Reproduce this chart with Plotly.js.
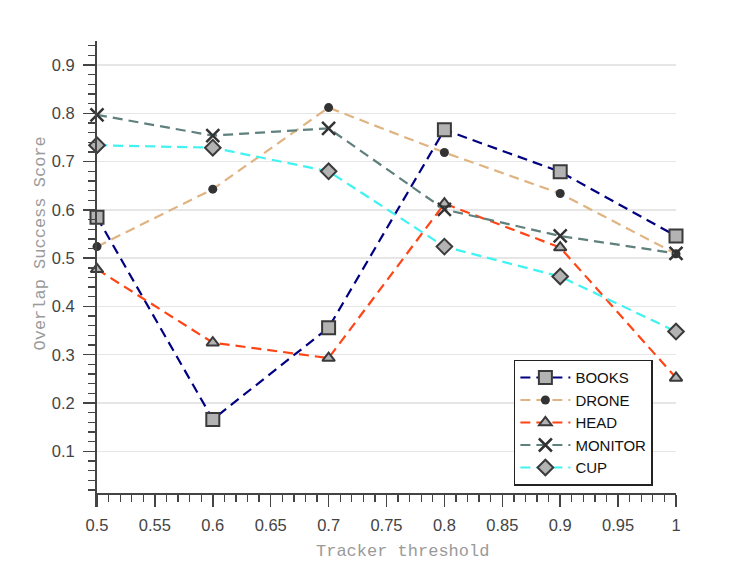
<!DOCTYPE html>
<html>
<head>
<meta charset="utf-8">
<script src="https://cdn.plot.ly/plotly-3.0.1.min.js"></script>
<style>html,body{margin:0;padding:0;background:#fff;}#chart{width:747px;height:561px;}</style>
</head>
<body>
<div id="chart"></div>
<script>
const thresholds = [0.5, 0.6, 0.7, 0.8, 0.9, 1.0];
const seriesNames = ["BOOKS", "DRONE", "HEAD", "MONITOR", "CUP"];
const books   = [0.585, 0.166, 0.356, 0.766, 0.679, 0.546];
const drone   = [0.524, 0.643, 0.812, 0.719, 0.634, 0.509];
const head    = [0.477, 0.325, 0.293, 0.613, 0.522, 0.252];
const monitor = [0.797, 0.754, 0.769, 0.601, 0.546, 0.510];
const cup     = [0.734, 0.729, 0.680, 0.524, 0.462, 0.348];
const xTickVals = [0.5, 0.55, 0.6, 0.65, 0.7, 0.75, 0.8, 0.85, 0.9, 0.95, 1.0];
const xTickText = ["0.5","0.55","0.6","0.65","0.7","0.75","0.8","0.85","0.9","0.95","1"];
const yTickVals = [0.1, 0.2, 0.3, 0.4, 0.5, 0.6, 0.7, 0.8, 0.9];
const yTickText = ["0.1","0.2","0.3","0.4","0.5","0.6","0.7","0.8","0.9"];
const xAxisTitle = "Tracker threshold";
const yAxisTitle = "Overlap Success Score";

const yMinorVals = [];
for (let k = 1; k <= 47; k++) yMinorVals.push(+(k * 0.02).toFixed(2));

const values = [books, drone, head, monitor, cup];
const lineColors = ["#000080", "#E0B482", "#FF4516", "#5F807C", "#3FF3F0"];
const markerStyles = [
  {symbol: "square", size: 13, color: "#b3b3b3", line: {color: "#3a3a3a", width: 2}},
  {symbol: "circle", size: 9, color: "#333333", line: {color: "#333333", width: 0}},
  {symbol: "triangle-up", size: 11, color: "#b3b3b3", line: {color: "#3a3a3a", width: 2}},
  {symbol: "x-thin", size: 13, color: "#333333", line: {color: "#333333", width: 2.5}},
  {symbol: "diamond", size: 12, color: "#b3b3b3", line: {color: "#3a3a3a", width: 2}}
];

const traces = seriesNames.map((name, i) => ({
  type: "scatter",
  mode: "lines+markers",
  name: name,
  x: thresholds,
  y: values[i],
  line: {color: lineColors[i], width: 2.2, dash: "10px,6px"},
  marker: markerStyles[i],
  cliponaxis: false
}));

const titleFont = {family: "Liberation Mono, Courier New, monospace", size: 17, color: "#9a9a9a"};

const layout = {
  width: 747, height: 561,
  margin: {l: 97, r: 71, t: 41, b: 54},
  paper_bgcolor: "#ffffff",
  plot_bgcolor: "#ffffff",
  showlegend: true,
  legend: {
    x: 0.72, y: 0.316, xanchor: "left", yanchor: "top",
    bgcolor: "#ffffff", bordercolor: "#222222", borderwidth: 1.5,
    font: {family: "Liberation Sans, Arial, sans-serif", size: 15, color: "#111111"},
    tracegroupgap: 0, itemwidth: 50
  },
  xaxis: {
    range: [0.5, 1.0],
    anchor: "free", position: 0.0288,
    tickmode: "array", tickvals: xTickVals, ticktext: xTickText,
    ticks: "outside", ticklen: 12, tickwidth: 1.5, tickcolor: "#444444",
    ticklabelstandoff: 5,
    minor: {dtick: 0.01, tick0: 0.5, ticks: "outside", ticklen: 7, tickwidth: 1.3, tickcolor: "#444444", showgrid: false},
    showline: true, linecolor: "#444444", linewidth: 2,
    showgrid: false, zeroline: false,
    tickfont: {family: "Liberation Sans, Arial, sans-serif", size: 16.5, color: "#444444"}
  },
  yaxis: {
    range: [-0.0155, 0.95],
    tickmode: "array", tickvals: yTickVals, ticktext: yTickText,
    ticks: "outside", ticklen: 12, tickwidth: 1.5, tickcolor: "#444444",
    ticklabelstandoff: 5,
    minor: {tickmode: "array", tickvals: yMinorVals, ticks: "outside", ticklen: 7, tickwidth: 1.3, tickcolor: "#444444", showgrid: false},
    showline: true, linecolor: "#444444", linewidth: 2,
    showgrid: true, gridcolor: "#e6e6e6", gridwidth: 1.5,
    zeroline: false,
    tickfont: {family: "Liberation Sans, Arial, sans-serif", size: 16.5, color: "#444444"}
  },
  annotations: [
    {text: xAxisTitle, xref: "paper", yref: "paper", x: 0.527, y: -0.095,
     xanchor: "center", yanchor: "middle", showarrow: false, font: titleFont},
    {text: yAxisTitle, xref: "paper", yref: "paper", x: -0.098, y: 0.566,
     xanchor: "center", yanchor: "middle", textangle: -90, showarrow: false, font: titleFont}
  ]
};

Plotly.newPlot("chart", traces, layout, {staticPlot: true, displayModeBar: false});
</script>
</body>
</html>
